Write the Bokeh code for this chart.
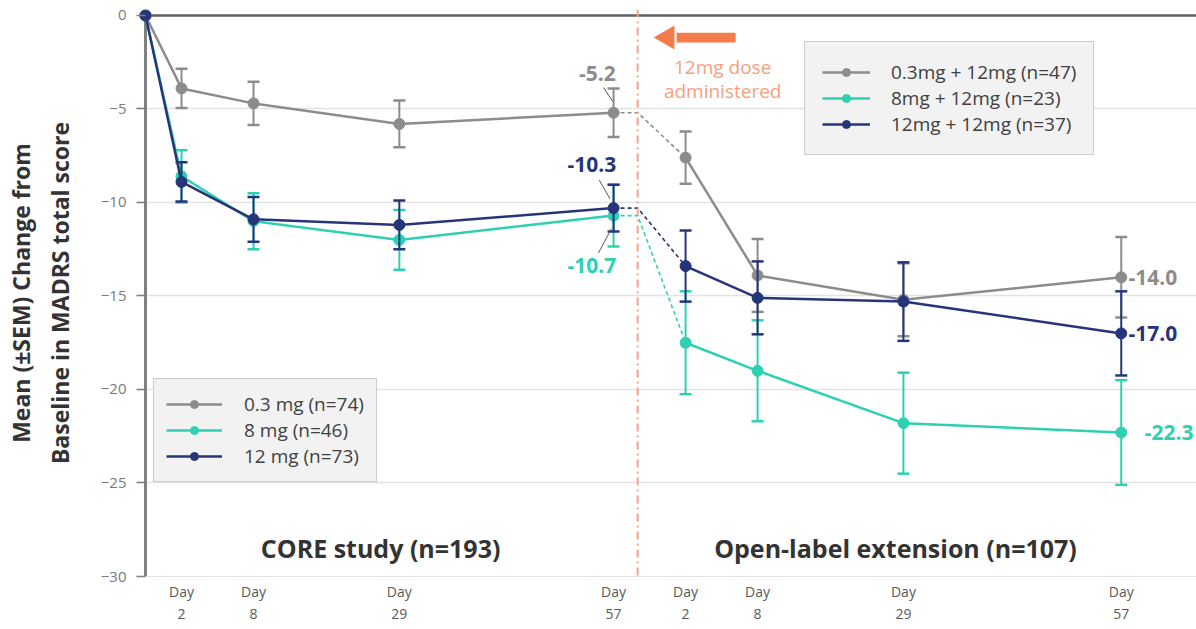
from bokeh.plotting import figure
from bokeh.models import Range1d, FixedTicker, Span, Legend, LegendItem, Label
from bokeh.embed import file_html
from bokeh.resources import INLINE

# ---------------- data ----------------
core_ticks = ["Day\n2", "Day\n8", "Day\n29", "Day\n57"]
ole_ticks = ["Day\n2", "Day\n8", "Day\n29", "Day\n57"]

core_gray = [0, -3.9, -4.7, -5.8, -5.2]
core_gray_sem = [0, 1.05, 1.15, 1.25, 1.3]
core_teal = [0, -8.6, -11.0, -12.0, -10.7]
core_teal_sem = [0, 1.4, 1.5, 1.6, 1.65]
core_navy = [0, -8.9, -10.9, -11.2, -10.3]
core_navy_sem = [0, 1.05, 1.2, 1.3, 1.25]

ole_gray = [-7.6, -13.9, -15.2, -14.0]
ole_gray_sem = [1.4, 1.95, 1.95, 2.15]
ole_teal = [-17.5, -19.0, -21.8, -22.3]
ole_teal_sem = [2.75, 2.7, 2.7, 2.8]
ole_navy = [-13.4, -15.1, -15.3, -17.0]
ole_navy_sem = [1.9, 1.95, 2.1, 2.25]

core_labels = ["0.3 mg (n=74)", "8 mg (n=46)", "12 mg (n=73)"]
ole_labels = ["0.3mg + 12mg (n=47)", "8mg + 12mg (n=23)", "12mg + 12mg (n=37)"]

# ---------------- layout (visit slots on the x axis) ----------------
core_x = [0, 1, 3, 7.05, 13]
ole_x = [15, 17, 21.05, 27.1]
dose_x = 13.67

GRAY = "#8c8c8c"
TEAL = "#2dd1b1"
NAVY = "#26357a"
FONT = "Open Sans"

p = figure(width=1196, height=629, output_backend="svg", toolbar_location=None,
           x_range=Range1d(-0.25, 29.19), y_range=Range1d(-30, 0.32),
           min_border_left=136, min_border_right=0, min_border_top=9, min_border_bottom=53)
p.outline_line_color = None
p.xgrid.grid_line_color = None
p.ygrid.grid_line_color = "#e3e3e3"
p.ygrid.grid_line_width = 1.5
p.ygrid.ticker = FixedTicker(ticks=[-30, -25, -20, -15, -10, -5])

# y axis
yax = p.yaxis[0]
yax.ticker = FixedTicker(ticks=[-30, -25, -20, -15, -10, -5, 0])
yax.axis_line_color = None
yax.major_tick_out = 0
yax.major_tick_in = 9
yax.major_tick_line_color = "#7f7f7f"
yax.major_tick_line_width = 1.5
yax.minor_tick_line_color = None
yax.major_label_standoff = 10
yax.major_label_text_font = FONT
yax.major_label_text_font_size = "15px"
yax.major_label_text_color = "#7a7a7a"
yax.axis_label = "Mean (±SEM) Change from\nBaseline in MADRS total score"
yax.axis_label_text_font = FONT
yax.axis_label_text_font_style = "bold"
yax.axis_label_text_font_size = "23px"
yax.axis_label_text_color = "#333333"
yax.axis_label_standoff = 22

# x axis
xax = p.xaxis[0]
xticks = core_x[1:] + ole_x
xax.ticker = FixedTicker(ticks=xticks)
xax.major_label_overrides = {t: lab for t, lab in zip(xticks, core_ticks + ole_ticks)}
xax.axis_line_color = "#e3e3e3"
xax.major_tick_line_color = None
xax.major_tick_out = 0
xax.major_tick_in = 0
xax.minor_tick_line_color = None
xax.major_label_standoff = 5
xax.major_label_text_font = FONT
xax.major_label_text_font_size = "14px"
xax.major_label_text_color = "#595959"
xax.major_label_text_line_height = 1.16

# top zero line and y axis line
p.segment(x0=[0], y0=[0], x1=[30], y1=[0], line_color="#606060", line_width=2.5)
p.segment(x0=[0], y0=[-30], x1=[0], y1=[0], line_color="#808080", line_width=3)

# dose line
p.add_layout(Span(location=dose_x, dimension="height", line_color="#f5a385",
                  line_width=2, line_dash="8 4 2 4"))


def errbars(xs, ys, sems, color):
    xx, lo, hi = [], [], []
    for x, y, s in zip(xs, ys, sems):
        if s > 0:
            xx.append(x)
            lo.append(y - s)
            hi.append(y + s)
    p.segment(x0=xx, y0=lo, x1=xx, y1=hi, line_color=color, line_width=2)
    p.scatter(xx + xx, lo + hi, marker="dash", size=12, line_color=color, line_width=2.5)


series = [
    (core_teal, core_teal_sem, ole_teal, ole_teal_sem, TEAL),
    (core_gray, core_gray_sem, ole_gray, ole_gray_sem, GRAY),
    (core_navy, core_navy_sem, ole_navy, ole_navy_sem, NAVY),
]
core_r = {}
ole_r = {}
for cy, cs, oy, os_, col in series:
    errbars(core_x, cy, cs, col)
    errbars(ole_x, oy, os_, col)
    # dashed bridge across dose line
    p.line([core_x[-1], dose_x, ole_x[0]], [cy[-1], cy[-1], oy[0]],
           line_color=col, line_width=1.6, line_dash="4 3")
    l1 = p.line(core_x, cy, line_color=col, line_width=2.5)
    s1 = p.scatter(core_x, cy, size=11, fill_color=col, line_color=col)
    l2 = p.line(ole_x, oy, line_color=col, line_width=2.5)
    s2 = p.scatter(ole_x, oy, size=11, fill_color=col, line_color=col)
    core_r[col] = [l1, s1]
    ole_r[col] = [l2, s2]


def make_legend(labels, rmap, loc, pad, gw, standoff):
    items = [LegendItem(label=lab, renderers=rmap[c]) for lab, c in zip(labels, [GRAY, TEAL, NAVY])]
    lg = Legend(items=items, location=loc)
    lg.background_fill_color = "#f2f2f2"
    lg.background_fill_alpha = 1
    lg.border_line_color = "#a6a6a6"
    lg.border_line_width = 1.5
    lg.padding = pad
    lg.spacing = 0
    lg.margin = 0
    lg.glyph_width = gw
    lg.glyph_height = 20
    lg.label_standoff = standoff
    lg.label_text_font = FONT
    lg.label_text_font_size = "19px"
    lg.label_text_color = "#404040"
    lg.label_height = 20
    p.add_layout(lg)


make_legend(ole_labels, ole_r, (668, 421), 17, 48, 21)
make_legend(core_labels, core_r, (17, 94), 12, 56, 22)

# dose arrow
p.quad(left=[14.75], right=[16.39], bottom=[-1.45], top=[-0.92], fill_color="#f47b4c", line_color=None)
p.scatter([14.5], [-1.18], marker="triangle", angle=1.5708, size=24, fill_color="#f47b4c", line_color=None)
for txt, yy in [("12mg dose", -2.78), ("administered", -4.06)]:
    p.add_layout(Label(x=16.03, y=yy, text=txt, text_align="center", text_baseline="middle",
                       text_font=FONT, text_font_size="19px", text_color="#f7a07c"))

# value call-outs
callouts = [
    ("-5.2", 12.55, -3.1, GRAY, (12.72, -3.85, 12.98, -4.6)),
    ("-10.3", 12.4, -7.97, NAVY, (12.6, -8.8, 12.9, -9.8)),
    ("-10.7", 12.4, -13.37, TEAL, (12.58, -12.7, 12.94, -11.4)),
]
for txt, x, y, col, ld in callouts:
    p.add_layout(Label(x=x, y=y, text=txt, text_align="center", text_baseline="middle",
                       text_font=FONT, text_font_size="21px", text_font_style="bold", text_color=col))
    p.segment(x0=[ld[0]], y0=[ld[1]], x1=[ld[2]], y1=[ld[3]], line_color="#595959", line_width=1)

for txt, x, y, col in [("-14.0", 27.3, ole_gray[-1], GRAY), ("-17.0", 27.3, ole_navy[-1], NAVY),
                       ("-22.3", 27.75, ole_teal[-1], TEAL)]:
    p.add_layout(Label(x=x, y=y, text=txt, text_align="left", text_baseline="middle",
                       text_font=FONT, text_font_size="21px", text_font_style="bold", text_color=col))

# section titles
for txt, x in [("CORE study (n=193)", 6.53), ("Open-label extension (n=107)", 20.83)]:
    p.add_layout(Label(x=x, y=-28.5, text=txt, text_align="center", text_baseline="middle",
                       text_font=FONT, text_font_size="25px", text_font_style="bold", text_color="#333333"))

open("out.html", "w").write(file_html(p, INLINE))
